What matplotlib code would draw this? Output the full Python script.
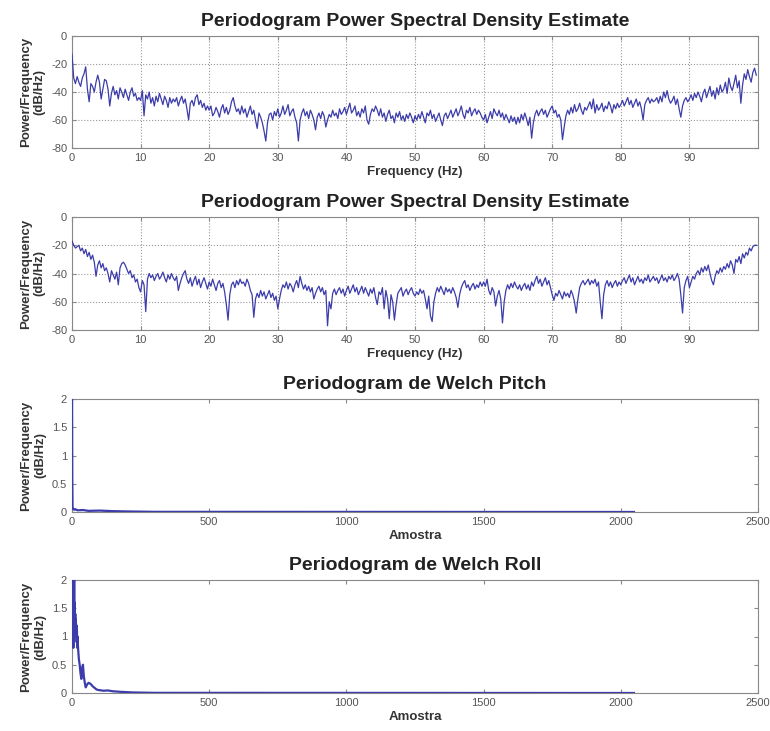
import numpy as np
import matplotlib
matplotlib.use("Agg")
import matplotlib.pyplot as plt

plt.rcParams["font.family"] = ["Liberation Sans", "DejaVu Sans"]
plt.rcParams["axes.unicode_minus"] = False

# ---------- dane ----------
# widmo 1 (dB/Hz), krok 0.25 Hz
psd1 = [
    -13, -30, -34, -29, -33, -36, -30, -27, -22, -38, -47, -34, -36, -40, -33, -28, -33, -45, -38, -31,
    -32, -38, -50, -41, -36, -42, -39, -45, -37, -40, -44, -38, -42, -46, -40, -37, -43, -41, -46, -44,
    -46, -39, -57, -42, -45, -40, -48, -44, -50, -43, -47, -41, -45, -49, -43, -46, -51, -44, -48, -45,
    -47, -44, -50, -46, -43, -48, -45, -52, -60, -48, -46, -50, -44, -42, -49, -46, -51, -48, -53, -50,
    -53, -50, -57, -55, -51, -54, -58, -52, -49, -55, -51, -56, -53, -47, -44, -50, -54, -52, -56, -50,
    -55, -52, -58, -54, -50, -56, -53, -60, -66, -55, -58, -62, -68, -75, -62, -56, -55, -60, -54, -57,
    -52, -58, -55, -50, -56, -53, -49, -57, -54, -52, -58, -62, -75, -60, -55, -52, -57, -54, -59, -53,
    -56, -60, -67, -58, -55, -59, -54, -57, -65, -60, -56, -58, -53, -57, -55, -59, -52, -56, -54, -51,
    -56, -52, -48, -55, -53, -50, -57, -54, -58, -52, -55, -50, -60, -63, -56, -52, -54, -50, -53, -57,
    -52, -58, -55, -61, -56, -53, -59, -57, -62, -55, -58, -54, -60, -57, -61, -56, -59, -55, -58, -62,
    -57, -60, -56, -59, -54, -58, -62, -55, -57, -53, -59, -56, -61, -58, -55, -60, -64, -57, -55, -59,
    -56, -53, -58, -55, -52, -57, -54, -50, -56, -59, -53, -55, -51, -57, -54, -52, -56, -53, -55, -58,
    -60, -56, -62, -58, -54, -59, -52, -55, -57, -53, -58, -55, -60, -56, -59, -62, -57, -61, -58, -63,
    -58, -62, -56, -60, -55, -59, -64, -58, -73, -62, -56, -53, -57, -54, -52, -56, -53, -58, -55, -52,
    -50, -55, -53, -58, -56, -60, -74, -65, -57, -53, -56, -51, -55, -49, -54, -52, -48, -53, -56, -51,
    -53, -50, -47, -52, -45, -55, -49, -53, -51, -48, -54, -50, -52, -47, -50, -55, -49, -52, -48, -51,
    -49, -46, -50, -47, -44, -49, -46, -51, -48, -45, -50, -47, -52, -60, -49, -46, -44, -48, -45, -47,
    -46, -44, -48, -43, -47, -40, -44, -39, -45, -48, -46, -43, -49, -45, -52, -58, -50, -46, -44, -47,
    -45, -42, -46, -41, -44, -40, -43, -47, -41, -38, -44, -40, -36, -43, -39, -45, -37, -42, -35, -40,
    -38, -33, -41, -30, -36, -39, -34, -28, -37, -32, -48, -35, -27, -31, -24, -29, -33, -26, -23, -28,
]

# widmo 2 (dB/Hz), krok 0.25 Hz
psd2 = [
    -17, -20, -22, -21, -20, -24, -22, -26, -23, -28, -25, -30, -27, -32, -42, -34, -31, -36, -33, -38,
    -36, -40, -46, -38, -41, -44, -39, -48, -36, -33, -32, -34, -37, -40, -38, -43, -41, -46, -44, -50,
    -53, -45, -48, -67, -44, -40, -43, -41, -45, -42, -40, -44, -42, -39, -43, -46, -41, -44, -40, -43,
    -45, -42, -52, -47, -43, -40, -38, -44, -47, -43, -49, -45, -42, -48, -44, -50, -46, -43, -47, -51,
    -46, -49, -44, -48, -52, -47, -45, -50, -47, -53, -62, -73, -55, -48, -46, -50, -45, -48, -44, -47,
    -46, -49, -44, -47, -52, -55, -71, -58, -54, -57, -52, -56, -53, -58, -55, -52, -57, -54, -59, -56,
    -65, -58, -52, -48, -50, -46, -51, -47, -49, -53, -48, -45, -50, -42, -47, -51, -48, -52, -49, -53,
    -50, -58, -54, -51, -49, -53, -50, -55, -52, -77, -60, -65, -54, -51, -55, -52, -50, -54, -51, -56,
    -52, -49, -54, -51, -48, -53, -50, -55, -52, -49, -54, -50, -53, -56, -51, -54, -50, -57, -62, -53,
    -55, -50, -65, -52, -58, -72, -55, -60, -73, -62, -54, -52, -50, -56, -53, -51, -55, -52, -50, -54,
    -56, -53, -55, -51, -54, -52, -58, -65, -56, -70, -74, -60, -54, -50, -53, -49, -52, -55, -50, -53,
    -51, -54, -50, -53, -57, -64, -55, -50, -47, -45, -50, -48, -52, -49, -47, -51, -48, -50, -46, -49,
    -46, -49, -44, -52, -55, -50, -53, -63, -56, -52, -58, -75, -60, -52, -48, -51, -47, -50, -46, -49,
    -51, -48, -52, -49, -47, -51, -48, -52, -46, -49, -45, -42, -47, -44, -49, -46, -43, -48, -45, -50,
    -55, -59, -54, -56, -52, -55, -58, -53, -56, -54, -57, -52, -55, -60, -68, -58, -50, -47, -45, -48,
    -46, -44, -48, -45, -47, -44, -49, -46, -60, -72, -55, -48, -45, -49, -46, -50, -47, -45, -49, -46,
    -48, -45, -43, -47, -44, -41, -46, -43, -48, -45, -42, -46, -44, -47, -43, -45, -41, -46, -44, -42,
    -45, -43, -47, -44, -41, -45, -43, -46, -42, -44, -41, -45, -43, -40, -44, -55, -68, -50, -45, -42,
    -50, -46, -42, -44, -40, -38, -41, -36, -39, -35, -38, -34, -40, -45, -48, -42, -38, -40, -36, -39,
    -35, -37, -33, -36, -31, -34, -40, -30, -32, -28, -33, -26, -29, -25, -27, -22, -24, -21, -20, -20,
]
freq = np.arange(len(psd1)) * 0.25

# Welch - pitch (amostra, valor)
pitch_n = [0, 1, 2, 3, 5, 8, 12, 20, 40, 60, 100, 150, 200, 300, 2048]
pitch_v = [2.4, 0.6, 0.1, 0.06, 0.05, 0.04, 0.05, 0.03, 0.035, 0.02, 0.025, 0.015, 0.01, 0.003, 0.0]

# Welch - roll (amostra, valor)
roll_n = [0, 1, 2, 3, 4, 5, 6, 7, 8, 9, 10, 11, 12, 13, 14, 15, 16, 17, 18, 19, 20,
          22, 25, 28, 31, 34, 37, 40, 43, 46, 50, 55, 60, 65, 70, 75, 80, 90, 100,
          115, 130, 150, 180, 220, 300, 2048]
roll_v = [2.5, 1.2, 2.2, 1.5, 2.1, 0.8, 1.9, 1.3, 2.0, 1.1, 1.6, 1.2, 1.4, 1.0, 1.3, 1.1, 1.2, 0.9, 1.1, 0.8, 1.0,
          0.8, 0.6, 0.5, 0.35, 0.25, 0.45, 0.5, 0.3, 0.2, 0.1, 0.15, 0.18, 0.17, 0.15, 0.12, 0.1, 0.06, 0.05,
          0.04, 0.045, 0.03, 0.02, 0.01, 0.003, 0.0]

titulos = ["Periodogram Power Spectral Density Estimate",
           "Periodogram Power Spectral Density Estimate",
           "Periodogram de Welch Pitch",
           "Periodogram de Welch Roll"]

kolor = "#3c3caa"
szary = "#555555"

# ---------- wykres ----------
fig = plt.figure(figsize=(7.7, 7.31), dpi=100)
W, H = 770, 731
panele = [(36, 148), (217, 330), (399, 512), (580, 693)]
axes = []
for top, bot in panele:
    ax = fig.add_axes([72 / W, (H - bot) / H, 686 / W, (bot - top) / H])
    axes.append(ax)


def styl(ax):
    for s in ax.spines.values():
        s.set_color("#888888")
    ax.tick_params(direction="in", top=True, right=True, length=3,
                   colors="#888888", labelcolor=szary, labelsize=8)
    ax.set_ylabel("Power/Frequency\n(dB/Hz)", fontsize=9.5, fontweight="bold",
                  color="#333333", labelpad=4)


for i, dane in enumerate([psd1, psd2]):
    ax = axes[i]
    ax.plot(freq, dane, color=kolor, lw=0.9, zorder=3)
    ax.set_xlim(0, 100)
    ax.set_ylim(-80, 0)
    ax.set_xticks(range(0, 100, 10))
    ax.set_yticks([-80, -60, -40, -20, 0])
    ax.grid(True, linestyle=":", color="#999999", lw=0.8)
    styl(ax)
    ax.set_xlabel("Frequency (Hz)", fontsize=9.5, fontweight="bold", color="#333333", labelpad=2)
    ax.set_title(titulos[i], fontsize=14, fontweight="bold", color="#222222", pad=7)

for i, (n, v) in enumerate([(pitch_n, pitch_v), (roll_n, roll_v)]):
    ax = axes[i + 2]
    ax.plot(n, v, color=kolor, lw=1.6, zorder=3)
    ax.set_xlim(0, 2500)
    ax.set_ylim(0, 2)
    ax.set_xticks(range(0, 2501, 500))
    ax.set_yticks([0, 0.5, 1, 1.5, 2])
    ax.set_yticklabels(["0", "0.5", "1", "1.5", "2"])
    styl(ax)
    ax.set_xlabel("Amostra", fontsize=9.5, fontweight="bold", color="#333333", labelpad=2)
    ax.set_title(titulos[i + 2], fontsize=14, fontweight="bold", color="#222222", pad=7)

fig.savefig("out.png", dpi=100, facecolor="white")
